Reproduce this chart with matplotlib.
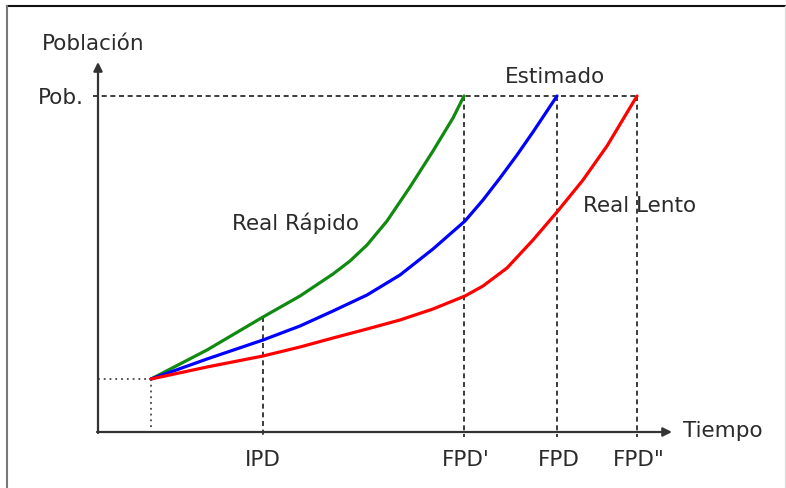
import numpy as np
import matplotlib
matplotlib.use("Agg")
import matplotlib.pyplot as plt
from matplotlib.lines import Line2D

# Data (time on x, population on y), origin at the axes corner
start = (53, 53)
pob = 336
ipd = 165
fpd_fast = 366    # FPD'
fpd_est = 459     # FPD
fpd_slow = 539    # FPD''

# Real Rápido (green)
fast_x = [53, 109, 165, 202, 235, 252, 269, 289, 312, 335, 355, 366]
fast_y = [53, 82, 115, 136, 158, 171, 187, 211, 245, 281, 314, 336]

# Estimado (blue)
est_x = [53, 109, 165, 202, 235, 269, 302, 335, 367, 385, 402, 419, 435, 459]
est_y = [53, 73, 92, 106, 121, 137, 157, 183, 211, 232, 254, 277, 300, 336]

# Real Lento (red)
slow_x = [53, 109, 165, 202, 235, 269, 302, 335, 367, 385, 409, 435, 459, 485, 509, 539]
slow_y = [53, 65, 76, 85, 94, 103, 112, 123, 136, 146, 164, 192, 220, 252, 286, 336]

tick_pos = [ipd, fpd_fast, fpd_est, fpd_slow]
tick_labels = ["IPD", "FPD'", "FPD", "FPD\""]

TEXT = "#2b2b2b"
FS = 15.5

fig = plt.figure(figsize=(7.86, 4.89), dpi=100)
ax = fig.add_axes([0, 0, 1, 1])
ax.set_xlim(-98, 688)
ax.set_ylim(-56, 433)
ax.axis("off")

# outer frame
fig.add_artist(Line2D([7 / 786, 1], [1 - 7 / 489, 1 - 7 / 489], color="#111", lw=1.5,
                      transform=fig.transFigure))
fig.add_artist(Line2D([7 / 786, 7 / 786], [0, 1 - 7 / 489], color="#777", lw=1.5,
                      transform=fig.transFigure))
fig.add_artist(Line2D([785 / 786, 785 / 786], [0, 1 - 7 / 489], color="#ddd", lw=1,
                      transform=fig.transFigure))

# axes with arrows
arrow = dict(arrowstyle="-|>", color="#333", lw=1.6, mutation_scale=13, shrinkA=0, shrinkB=0)
ax.annotate("", xy=(0, 370), xytext=(0, -1), arrowprops=arrow)
ax.annotate("", xy=(574, 0), xytext=(-1, 0), arrowprops=arrow)

dash = (0, (3, 2.2))
dk = "#1a1a1a"

# population target line
ax.plot([-5, fpd_slow], [pob, pob], color=dk, lw=1.2, linestyle=dash)

# vertical guides
green_at_ipd = np.interp(ipd, fast_x, fast_y)
ax.plot([ipd, ipd], [green_at_ipd, -5], color=dk, lw=1.2, linestyle=dash)
for xv in [fpd_fast, fpd_est, fpd_slow]:
    ax.plot([xv, xv], [pob, -5], color=dk, lw=1.2, linestyle=dash)

# start point guides
ax.plot([0, start[0]], [start[1], start[1]], color="#444", lw=1.3, linestyle=(0, (1, 2.2)))
ax.plot([start[0], start[0]], [start[1], 0], color="#444", lw=1.3, linestyle=(0, (1, 2.2)))

# curves
ax.plot(fast_x, fast_y, color="#108a10", lw=2.3, solid_capstyle="round", solid_joinstyle="round")
ax.plot(est_x, est_y, color="#0000ff", lw=2.3, solid_capstyle="round", solid_joinstyle="round")
ax.plot(slow_x, slow_y, color="#ff0000", lw=2.3, solid_capstyle="round", solid_joinstyle="round")

# labels
ax.text(-56, 383, "Población", fontsize=FS, color=TEXT, ha="left", va="baseline")
ax.text(-14, 329, "Pob.", fontsize=FS, color=TEXT, ha="right", va="baseline")
ax.text(457, 350, "Estimado", fontsize=FS, color=TEXT, ha="center", va="baseline")
ax.text(134, 203, "Real Rápido", fontsize=FS, color=TEXT, ha="left", va="baseline")
ax.text(485, 221, "Real Lento", fontsize=FS, color=TEXT, ha="left", va="baseline")
ax.text(585, -4, "Tiempo", fontsize=FS, color=TEXT, ha="left", va="baseline")

for xv, lab in zip(tick_pos, tick_labels):
    off = 2 if lab != "IPD" else 0
    ax.text(xv + off, -33, lab, fontsize=FS, color=TEXT, ha="center", va="baseline")

fig.savefig("out.png", dpi=100, facecolor="white")
